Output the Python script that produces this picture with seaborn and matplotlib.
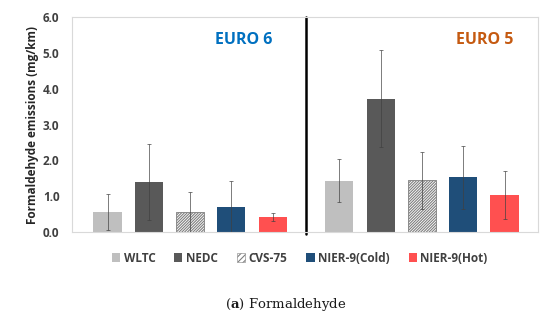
import pandas as pd
import matplotlib.pyplot as plt
import seaborn as sns
from matplotlib.patches import Patch

# Données (mg/km)
cycles = ["WLTC", "NEDC", "CVS-75", "NIER-9(Cold)", "NIER-9(Hot)"]
groups = ["EURO 6", "EURO 5"]
euro6_mean = [0.55, 1.40, 0.56, 0.69, 0.43]
euro6_err = [0.50, 1.05, 0.57, 0.73, 0.11]
euro5_mean = [1.43, 3.72, 1.44, 1.53, 1.04]
euro5_err = [0.60, 1.36, 0.80, 0.88, 0.67]
yticks = [0.0, 1.0, 2.0, 3.0, 4.0, 5.0, 6.0]

colors = ["#BFBFBF", "#595959", "#FFFFFF", "#1F4E79", "#FF5050"]

df = pd.DataFrame({
    "Groupe": ["EURO 6"] * 5 + ["EURO 5"] * 5,
    "Cycle": cycles * 2,
    "Valeur": euro6_mean + euro5_mean,
    "Erreur": euro6_err + euro5_err,
})

sns.set_theme(style="white")
plt.rcParams["font.family"] = ["Open Sans", "DejaVu Sans"]
plt.rcParams["hatch.linewidth"] = 0.8

fig = plt.figure(figsize=(5.5, 3.26), dpi=100)
ax = fig.add_axes([0.131, 0.288, 0.847, 0.66])

sns.barplot(data=df, x="Groupe", y="Valeur", hue="Cycle", order=groups,
            hue_order=cycles, palette=colors, errorbar=None, width=0.89,
            gap=0.32, saturation=1, ax=ax)

# Barres d'erreur et hachures
for i, cycle in enumerate(cycles):
    cont = ax.containers[i]
    sub = df[df["Cycle"] == cycle].set_index("Groupe").loc[groups]
    xs = [p.get_x() + p.get_width() / 2 for p in cont.patches]
    ax.errorbar(xs, sub["Valeur"], yerr=sub["Erreur"], fmt="none",
                ecolor="#404040", elinewidth=0.6, capsize=1.5, capthick=0.6,
                alpha=0.8)
    for p in cont.patches:
        p.set_linewidth(0)
        if cycle == "CVS-75":
            p.set_hatch("////////////")
            p.set_edgecolor("#7F7F7F")
            p.set_linewidth(0.6)

ax.set_xlim(-0.509, 1.5)
ax.set_ylim(0, 6)
ax.set_yticks(yticks)
ax.set_yticklabels([f"{v:.1f}" for v in yticks], fontsize=8.5, fontweight="bold",
                   color="#404040")
ax.set_xticks([])
ax.set_xlabel("")
ax.set_ylabel("Formaldehyde emissions (mg/km)", fontsize=8.5, fontweight="bold",
              color="#262626", labelpad=3)
ax.tick_params(axis="y", length=0, pad=9)
for s in ax.spines.values():
    s.set_color("#D9D9D9")
    s.set_linewidth(0.8)

ax.axvline(0.5, ymin=-0.01, ymax=1, color="black", lw=1.8, clip_on=False)

ax.text(0.23, 5.35, "EURO 6", ha="center", va="center", fontsize=11.5,
        fontweight="bold", color="#0070C0")
ax.text(1.27, 5.37, "EURO 5", ha="center", va="center", fontsize=11.5,
        fontweight="bold", color="#C55A11")

ax.get_legend().remove()
handles = []
for c, name in zip(colors, cycles):
    if name == "CVS-75":
        handles.append(Patch(facecolor="white", edgecolor="#7F7F7F", hatch="//////",
                             linewidth=0.4, label=name))
    else:
        handles.append(Patch(facecolor=c, edgecolor="none", label=name))
fig.legend(handles=handles, loc="center", bbox_to_anchor=(0.545, 0.208), ncol=5,
           frameon=False, handlelength=0.7, handleheight=0.7,
           handletextpad=0.3, columnspacing=1.6, prop={"weight": "bold", "size": 8.5})
for t in fig.legends[0].get_texts():
    t.set_color("#404040")

plt.rcParams["mathtext.fontset"] = "dejavuserif"
fig.text(0.52, 0.065, r"($\mathbf{a}$) Formaldehyde", ha="center", va="center",
         fontsize=9.5, family="DejaVu Serif", color="#1a1a1a")

fig.savefig("out.png", dpi=100)
